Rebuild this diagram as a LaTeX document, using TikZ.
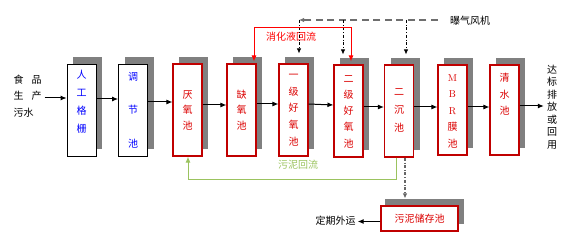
\documentclass[tikz,border=0pt]{standalone}
\usepackage{fontspec}
\newfontfamily\cjk{Noto Sans CJK SC}
\usetikzlibrary{arrows.meta,shadows,calc}
\definecolor{boxred}{RGB}{192,0,0}
\definecolor{txtred}{RGB}{220,0,0}
\definecolor{shadowgray}{RGB}{128,128,128}
\definecolor{sludgegreen}{RGB}{155,195,95}
\definecolor{txtblue}{RGB}{0,0,255}
\definecolor{fangray}{RGB}{110,110,110}
\newcommand{\fs}[1]{\cjk\fontsize{10}{#1}\selectfont}
\begin{document}
\begin{tikzpicture}[x=1pt,y=-1pt,
  font=\fs{12},
  pool/.style={draw=boxred, fill=white, line width=1.1pt, minimum width=29pt,
    minimum height=92pt, inner sep=0pt,
    drop shadow={shadow xshift=6pt, shadow yshift=7pt, opacity=1, fill=shadowgray}},
  blackpool/.style={pool, draw=black, line width=0.8pt},
  ptext/.style={align=center, inner sep=0pt, text=txtred},
  btext/.style={align=center, inner sep=0pt, text=txtblue},
  flow/.style={-{Latex[length=6pt,width=5pt]}, line width=1pt, black},
  air/.style={-{Latex[length=5pt,width=4.5pt]}, dash dot, line width=0.8pt, black},
  fanline/.style={line width=1.2pt, draw=fangray},
  recyc/.style={{Latex[length=6pt,width=5pt]}-{Latex[length=6pt,width=5pt]}, line width=1pt, red},
  sludge/.style={-{Latex[length=6pt,width=5pt]}, line width=1pt, sludgegreen}
]
\useasboundingbox (0,0) rectangle (572,243);

% pools
\node[blackpool] (b1) at (81.5,110) {};
\node[blackpool] (b2) at (133,110) {};
\node[pool] (b3) at (187.5,110) {};
\node[pool] (b4) at (241.5,110) {};
\node[pool] (b5) at (293.5,110) {};
\node[pool] (b6) at (348.5,111) {};
\node[pool] (b7) at (399,111) {};
\node[pool, minimum height=90pt] (b8) at (452.5,110) {};
\node[pool, minimum height=90pt] (b9) at (504.5,110) {};
\node[pool, minimum width=77pt, minimum height=25pt,
  drop shadow={shadow xshift=4pt, shadow yshift=7pt, opacity=1, fill=shadowgray}] (s) at (419.5,218.5) {};

% pool texts
\node[btext, font=\fs{18}] (t1) at (81.5,102) {人\\工\\格\\栅};
\node[btext, font=\fs{33.5}] (t2) at (133,110) {调\\节\\池};
\node[ptext, font=\fs{15.5}] (t3) at (187.5,110) {厌\\氧\\池};
\node[ptext, font=\fs{15.5}] (t4) at (241.5,110) {缺\\氧\\池};
\node[ptext, font=\fs{16.75}] (t5) at (293.5,110) {一\\级\\好\\氧\\池};
\node[ptext, font=\fs{16.25}] (t6) at (348.5,111.5) {二\\级\\好\\氧\\池};
\node[ptext, font=\fs{18}] (t7) at (399,110) {二\\沉\\池};
\node[ptext, font=\fs{16.5}] (t8) at (452.5,111) {{\rmfamily M}\\{\rmfamily B}\\{\rmfamily R}\\膜\\池};
\node[ptext, font=\fs{16.5}] (t9) at (504.5,94.5) {清\\水\\池};
\node[ptext] (ts) at (s) {污泥储存池};

% outer texts
\node[align=left, inner sep=0pt, font=\fs{16.5}] (src) at (27.5,96) {食\hspace{8pt}品\\生\hspace{8pt}产\\污水};
\node[align=center, inner sep=0pt, font=\fs{12.5}] (dst) at (552,107) {达\\标\\排\\放\\或\\回\\用};
\node[inner sep=0pt] (fan) at (470,21) {曝气风机};
\node[inner sep=0pt] (ext) at (335.5,220.5) {定期外运};
\node[inner sep=0pt, text=red] (lr) at (291,37) {消化液回流};
\node[inner sep=0pt, text=sludgegreen] (lg) at (298,165) {污泥回流};

% main flow
\draw[flow] ([xshift=3pt,yshift=-2pt]src.east) -- ([yshift=12pt]b1.west);
\draw[flow] ([yshift=11pt]b1.east) -- ([yshift=11pt]b2.west);
\draw[flow] ([yshift=8pt]b2.east) -- ([yshift=8pt]b3.west);
\draw[flow] ([yshift=5pt]b3.east) -- ([yshift=5pt]b4.west);
\draw[flow] ([yshift=6pt]b4.east) -- ([yshift=6pt]b5.west);
\draw[flow] ([yshift=6pt]b5.east) -- ([yshift=6pt]b6.west);
\draw[flow] ([yshift=4pt]b6.east) -- ([yshift=4pt]b7.west);
\draw[flow] ([yshift=4pt]b7.east) -- ([yshift=3pt]b8.west);
\draw[flow] ([yshift=3pt]b8.east) -- ([yshift=3pt]b9.west);
\coordinate (dstin) at ($(dst.west |- b9.east)+(-3,-4)$);
\draw[flow] ([yshift=4pt]b9.east) -- (dstin);

% aeration
\coordinate (fl) at (299,20);
\coordinate (fm) at (343,20);
\coordinate (fr) at (406,20);
\coordinate (fs) at ($(fan.west)+(-12,0)$);
\foreach \i in {0,...,11}
  \draw[fanline] ($(fs |- fl)+(-\i*11.5,0)$) -- ++(-7,0);
\draw[fanline, -{Latex[length=5pt,width=4.5pt]}] ([xshift=6pt]fl) -- (fl);
\draw[air, shorten >=10pt] (fl) -- (fl |- b5.north);
\draw[air, shorten >=10pt] (fm) -- (fm |- b6.north);
\draw[air, shorten >=10pt] (fr) -- (fr |- b7.north);

% nitrification liquid recycle
\coordinate (r1) at ($(b4.north)+(12.5,-2)$);
\coordinate (r2) at ($(b6.north)+(2.5,-3)$);
\coordinate (rtop) at (0,28);
\draw[recyc] (r1) |- (r2 |- rtop) -- (r2);

% sludge return
\coordinate (g1) at ($(b7.south)+(-3,0)$);
\coordinate (g2) at ($(b3.south)+(0.5,0)$);
\draw[sludge] (g1) -- ++(0,22) -| (g2);

% excess sludge
\coordinate (e1) at ($(b7.south)+(6,0)$);
\draw[air, line width=1.2pt, black!60, shorten >=7pt] (e1) -- (e1 |- s.north);
\draw[flow] ([yshift=-3pt]s.west) -- ([xshift=2pt]ext.east |- 0,221.5);
\end{tikzpicture}
\end{document}
